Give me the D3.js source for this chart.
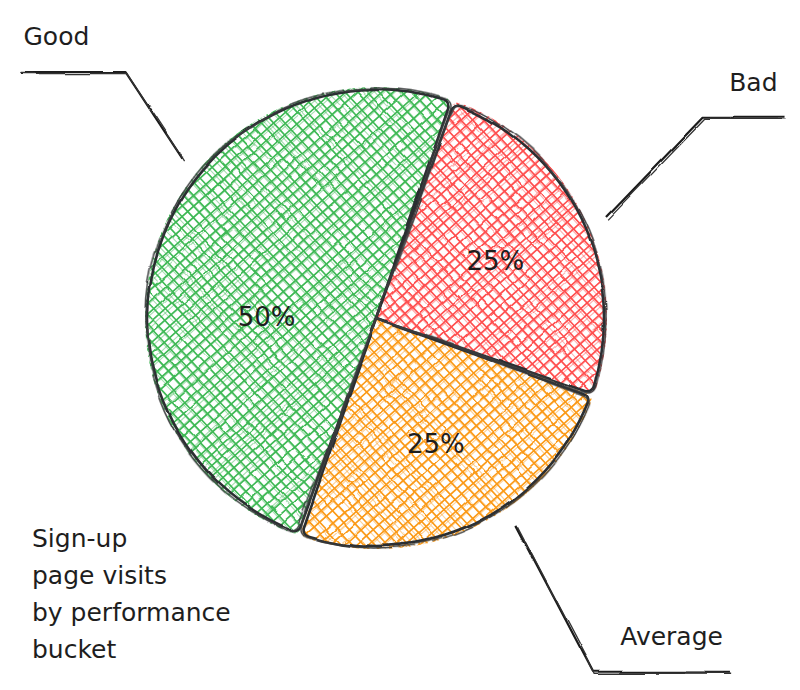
<!DOCTYPE html>
<html>
<head>
<meta charset="utf-8">
<script src="https://cdn.jsdelivr.net/npm/d3@7"></script>
<style>
  html, body { margin: 0; padding: 0; background: #fff; }
  svg { display: block; }
  text { font-family: "DejaVu Sans", "Noto Sans", sans-serif; fill: #1e1e1e; }
</style>
</head>
<body>
<svg id="chart" width="800" height="690"></svg>
<script>
// ---- data ----
const categories = ["Bad", "Average", "Good"];
const shares = [25, 25, 50];
const titleLines = ["Sign-up", "page visits", "by performance", "bucket"];

// ---- styles / layout (not data) ----
const colors = ["#ff4f4f", "#fb9a18", "#3fb955"];
const W = 800, H = 690;
const cx = 376, cy = 318, R = 228;
const startAngle = 0.34;
// callout layout per slice: angle nudges (deg), elbow radius factor, horizontal run
const callout = [
  { s: 2,   e: -6,  k: 1.68, run: 82 },
  { s: -8.5, e: -6, k: 1.82, run: 137 },
  { s: 20,  e: 25,  k: 1.54, run: -105 }
];
const pctLayout = [
  { nudge: 0, k: 0.58 },
  { nudge: 0, k: 0.61 },
  { nudge: -19, k: 0.48 }
];

const svg = d3.select("#chart");
svg.append("rect").attr("width", W).attr("height", H).attr("fill", "#fff");

// sketchy wobble filters
const defs = svg.append("defs");
function wobble(id, seed, scale, freq) {
  const f = defs.append("filter").attr("id", id)
    .attr("x", "-10%").attr("y", "-10%").attr("width", "120%").attr("height", "120%");
  f.append("feTurbulence").attr("type", "fractalNoise")
    .attr("baseFrequency", freq).attr("numOctaves", 2).attr("seed", seed).attr("result", "n");
  f.append("feDisplacementMap").attr("in", "SourceGraphic").attr("in2", "n")
    .attr("scale", scale).attr("xChannelSelector", "R").attr("yChannelSelector", "G");
}
wobble("wob1", 3, 5, 0.012);
wobble("wob2", 11, 6, 0.014);
wobble("wobH", 7, 3, 0.03);

// deterministic jitter for the hand-drawn look
let seedState = 12345;
function rnd() { seedState = (seedState * 1103515245 + 12345) % 2147483648; return seedState / 2147483648; }
function jit(a) { return (rnd() - 0.5) * 2 * a; }

const pie = d3.pie().sort(null).value(d => d)
  .startAngle(startAngle).endAngle(startAngle + 2 * Math.PI);
const arcs = pie(shares);

const arc = d3.arc().innerRadius(0).outerRadius(R).cornerRadius(7).padAngle(0.016).padRadius(R);
const arcClip = d3.arc().innerRadius(0).outerRadius(R + 3).cornerRadius(7).padAngle(0.006).padRadius(R);
const arc2 = d3.arc().innerRadius(0).outerRadius(R + 2).cornerRadius(8).padAngle(0.013).padRadius(R);

function polar(a, r) { return [r * Math.sin(a), -r * Math.cos(a)]; }

// hatch fill layer (drawn first)
const hatchLayer = svg.append("g");
arcs.forEach((d, i) => {
  defs.append("clipPath").attr("id", "clip" + i)
    .append("path").attr("d", arcClip(d)).attr("transform", `translate(${cx},${cy})`);
  const hg = hatchLayer.append("g").attr("clip-path", `url(#clip${i})`)
    .append("g").attr("filter", "url(#wobH)")
    .attr("transform", `translate(${cx},${cy})`);
  const fams = [-42 * Math.PI / 180, 47 * Math.PI / 180];
  const lines = [];
  fams.forEach((th) => {
    const n = [-Math.sin(th), Math.cos(th)];
    for (let t = -R - 10; t <= R + 10; t += 8.2) {
      const L = R + 20;
      const c = [n[0] * t, n[1] * t];
      for (let k = 0; k < 2; k++) {
        const off = k === 0 ? 0 : 1.6 + jit(0.7);
        const da = k === 0 ? 0 : jit(0.014);
        const uu = [Math.cos(th + da), Math.sin(th + da)];
        lines.push({
          x1: c[0] + n[0] * off - uu[0] * L + jit(1),
          y1: c[1] + n[1] * off - uu[1] * L + jit(1),
          x2: c[0] + n[0] * off + uu[0] * L + jit(1),
          y2: c[1] + n[1] * off + uu[1] * L + jit(1),
          o: k === 0 ? 1 : 0.45,
          w: k === 0 ? 1.6 : 1.1
        });
      }
    }
  });
  hg.selectAll("line").data(lines).join("line")
    .attr("x1", l => l.x1).attr("y1", l => l.y1)
    .attr("x2", l => l.x2).attr("y2", l => l.y2)
    .attr("stroke", colors[i]).attr("stroke-width", l => l.w)
    .attr("stroke-opacity", l => l.o).attr("stroke-linecap", "round");
});

const g = svg.append("g").attr("transform", `translate(${cx},${cy})`);

// outlines (double stroke)
g.selectAll("path.o1").data(arcs).join("path").attr("class", "o1")
  .attr("d", arc).attr("fill", "none").attr("stroke", "#2c2e30")
  .attr("stroke-width", 2.6).attr("stroke-linejoin", "round")
  .attr("filter", "url(#wob1)");
g.selectAll("path.o2").data(arcs).join("path").attr("class", "o2")
  .attr("d", arc2).attr("fill", "none").attr("stroke", "#3a3c3e")
  .attr("stroke-width", 1.5).attr("stroke-linejoin", "round")
  .attr("transform", "rotate(0.5)")
  .attr("filter", "url(#wob2)");

// percentage labels
g.selectAll("text.pct").data(arcs).join("text").attr("class", "pct")
  .attr("transform", (d, i) => {
    const a = (d.startAngle + d.endAngle) / 2 + pctLayout[i].nudge * Math.PI / 180;
    const p = polar(a, R * pctLayout[i].k);
    return `translate(${p[0]},${p[1]})`;
  })
  .attr("text-anchor", "middle").attr("dy", "0.36em")
  .attr("font-size", 26)
  .text(d => Math.round(d.value / d3.sum(shares) * 100) + "%");

// callouts
const line = d3.line();
arcs.forEach((d, i) => {
  const mid = (d.startAngle + d.endAngle) / 2;
  const c = callout[i];
  const p1 = polar(mid + c.s * Math.PI / 180, R * 1.1);
  const p2 = polar(mid + c.e * Math.PI / 180, R * c.k);
  const p3 = [p2[0] + c.run, p2[1]];
  const pts = [p1, p2, p3];
  g.append("path").attr("d", line(pts)).attr("fill", "none")
    .attr("stroke", "#1a1a1a").attr("stroke-width", 2.2).attr("stroke-linejoin", "round")
    .attr("filter", "url(#wob1)");
  g.append("path").attr("d", line(pts.map(p => [p[0] + 1.2, p[1] + 1.5])))
    .attr("fill", "none").attr("stroke", "#333").attr("stroke-width", 1.3)
    .attr("filter", "url(#wob2)");
  const left = c.run < 0;
  g.append("text")
    .attr("x", left ? p3[0] + 3 : p3[0] - 7)
    .attr("y", p3[1] - 27)
    .attr("text-anchor", left ? "start" : "end")
    .attr("font-size", 25)
    .text(categories[i]);
});

// title
svg.append("text").attr("x", 32).attr("y", 547).attr("font-size", 25)
  .selectAll("tspan").data(titleLines).join("tspan")
  .attr("x", 32).attr("dy", (d, i) => i === 0 ? 0 : 37).text(d => d);
</script>
</body>
</html>
